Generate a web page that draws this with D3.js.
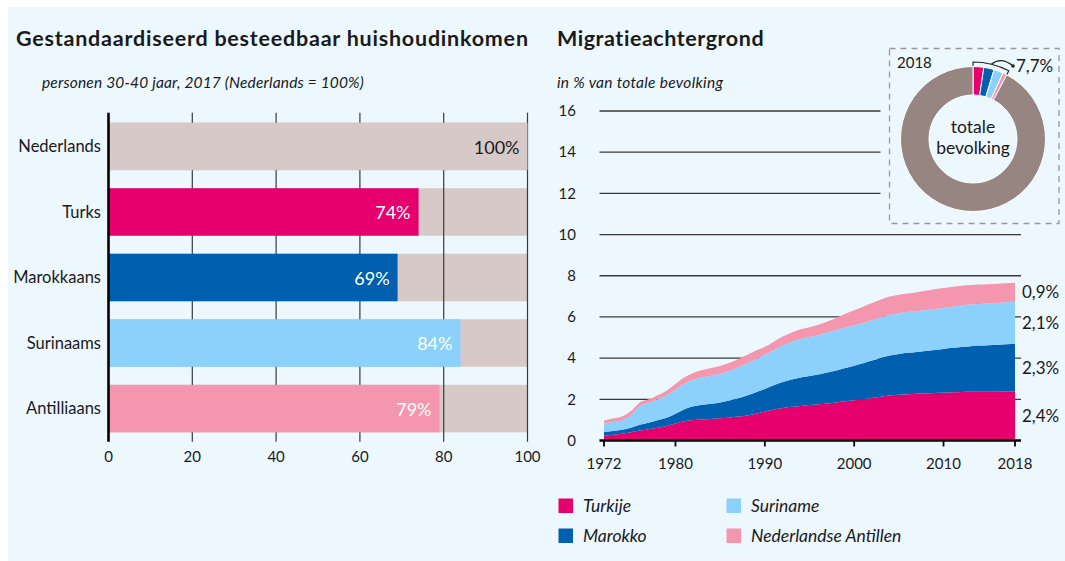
<!DOCTYPE html>
<html>
<head>
<meta charset="utf-8">
<script src="https://d3js.org/d3.v7.min.js"></script>
<style>
  body { margin: 0; background: #fff; }
  svg { display: block; font-family: Lato, "Noto Sans", sans-serif; }
</style>
</head>
<body>
<script>
// Bar chart data (Nederlands = 100%)
const barCategories = ["Nederlands", "Turks", "Marokkaans", "Surinaams", "Antilliaans"];
const barValues = [100, 74, 69, 84, 79];
const barTicks = [0, 20, 40, 60, 80, 100];

// Area chart data, % of total population per year
const years = [1972, 1973, 1974, 1975, 1976, 1977, 1978, 1979, 1980, 1981,
  1982, 1983, 1984, 1985, 1986, 1987, 1988, 1989, 1990, 1991,
  1992, 1993, 1994, 1995, 1996, 1997, 1998, 1999, 2000, 2001,
  2002, 2003, 2004, 2005, 2006, 2007, 2008, 2009, 2010, 2011,
  2012, 2013, 2014, 2015, 2016, 2017, 2018];
const turkije = [0.24, 0.28, 0.33, 0.40, 0.48, 0.55, 0.62, 0.70, 0.82, 0.93,
  0.99, 1.02, 1.05, 1.08, 1.11, 1.16, 1.22, 1.30, 1.40, 1.50,
  1.58, 1.64, 1.68, 1.72, 1.76, 1.80, 1.85, 1.90, 1.95, 2.00,
  2.06, 2.12, 2.18, 2.22, 2.25, 2.27, 2.29, 2.31, 2.32, 2.34,
  2.36, 2.37, 2.37, 2.37, 2.37, 2.38, 2.38];
const marokko = [0.18, 0.18, 0.19, 0.22, 0.28, 0.31, 0.36, 0.40, 0.48, 0.59,
  0.67, 0.72, 0.74, 0.77, 0.83, 0.89, 0.96, 1.04, 1.10, 1.18,
  1.26, 1.32, 1.38, 1.41, 1.44, 1.50, 1.55, 1.62, 1.68, 1.75,
  1.82, 1.90, 1.95, 1.98, 2.01, 2.03, 2.05, 2.08, 2.12, 2.16,
  2.18, 2.21, 2.24, 2.26, 2.28, 2.29, 2.30];
const suriname = [0.40, 0.44, 0.46, 0.61, 0.93, 0.96, 1.02, 1.10, 1.17, 1.24,
  1.30, 1.32, 1.35, 1.39, 1.44, 1.50, 1.56, 1.60, 1.66, 1.72,
  1.78, 1.84, 1.87, 1.89, 1.92, 1.94, 1.97, 1.96, 1.95, 1.95,
  1.96, 1.96, 1.97, 1.98, 1.98, 1.99, 2.00, 2.00, 2.00, 2.00,
  2.02, 2.02, 2.02, 2.02, 2.03, 2.04, 2.06];
const antillen = [0.15, 0.17, 0.19, 0.19, 0.16, 0.18, 0.20, 0.22, 0.27, 0.31,
  0.32, 0.36, 0.38, 0.38, 0.38, 0.40, 0.41, 0.43, 0.39, 0.40,
  0.43, 0.45, 0.47, 0.48, 0.50, 0.54, 0.58, 0.67, 0.75, 0.80,
  0.84, 0.87, 0.89, 0.90, 0.90, 0.91, 0.93, 0.95, 0.96, 0.97,
  0.96, 0.95, 0.94, 0.94, 0.93, 0.93, 0.92];
const seriesNames = ["Turkije", "Marokko", "Suriname", "Nederlandse Antillen"];
const endLabels = ["2,4%", "2,3%", "2,1%", "0,9%"];
const areaYTicks = [0, 2, 4, 6, 8, 10, 12, 14, 16];
const areaXTicks = [1972, 1980, 1990, 2000, 2010, 2018];

// Donut 2018
const donutValues = [2.4, 2.3, 2.1, 0.9, 92.3];
const donutLabel = "7,7%";

const colors = ["#e6006e", "#005faf", "#8cd0fc", "#f497ae"];
const barBack = "#d6c9c7";
const donutRest = "#968580";
const ink = "#1a1a1a";
const gridInk = "#3a3a3a";

const w = 1065, h = 561;

const svg = d3.select("body").append("svg")
  .attr("width", w)
  .attr("height", h);

// spread a text's letters so it spans the width seen in the original
function fitWidth(sel, target) {
  const len = sel.node().getComputedTextLength();
  const n = sel.text().length;
  sel.attr("letter-spacing", ((target - len) / (n - 1)).toFixed(3));
}

// light blue panel
svg.append("rect")
  .attr("x", 8).attr("y", 7)
  .attr("width", w - 8).attr("height", h - 7)
  .attr("fill", "#edf7fe");

/* ---------- Left: bar chart ---------- */

svg.append("text")
  .attr("x", 16).attr("y", 46)
  .style("font-size", "21.5px").style("font-weight", 700)
  .attr("fill", ink)
  .text("Gestandaardiseerd besteedbaar huishoudinkomen")
  .call(fitWidth, 512);

svg.append("text")
  .attr("x", 42).attr("y", 88)
  .style("font-size", "15.5px").style("font-style", "italic")
  .attr("fill", ink)
  .text("personen 30-40 jaar, 2017 (Nederlands  = 100%)")
  .call(fitWidth, 322);

const xBar = d3.scaleLinear().domain([0, 100]).range([108.5, 527.5]);
const yBar = d3.scaleBand().domain(barCategories)
  .range([113.5, 441.5]).paddingInner(0.275).paddingOuter(0.14);

const gridTop = 112.7, gridBottom = 441.7;

// grey remainder bars
svg.append("g").selectAll("rect")
  .data(barCategories)
  .join("rect")
  .attr("x", xBar(0))
  .attr("y", d => yBar(d))
  .attr("width", xBar(100) - xBar(0))
  .attr("height", yBar.bandwidth())
  .attr("fill", barBack);

// gridlines
svg.append("g").selectAll("line")
  .data(barTicks.slice(1))
  .join("line")
  .attr("x1", d => xBar(d)).attr("x2", d => xBar(d))
  .attr("y1", gridTop).attr("y2", gridBottom)
  .attr("stroke", gridInk).attr("stroke-width", 1.2);

// value bars
svg.append("g").selectAll("rect")
  .data(barValues)
  .join("rect")
  .attr("x", xBar(0))
  .attr("y", (d, i) => yBar(barCategories[i]))
  .attr("width", d => xBar(d) - xBar(0))
  .attr("height", yBar.bandwidth())
  .attr("fill", (d, i) => i === 0 ? barBack : colors[i - 1]);

// value labels
svg.append("g").selectAll("text")
  .data(barValues)
  .join("text")
  .attr("x", d => xBar(d) - 8)
  .attr("y", (d, i) => yBar(barCategories[i]) + yBar.bandwidth() / 2 + 1)
  .attr("dy", "0.35em")
  .attr("text-anchor", "end")
  .style("font-size", "18px")
  .attr("fill", (d, i) => i === 0 ? ink : "#fff")
  .text(d => d + "%");

// category labels
svg.append("g").selectAll("text")
  .data(barCategories)
  .join("text")
  .attr("x", 101)
  .attr("y", d => yBar(d) + yBar.bandwidth() / 2)
  .attr("dy", "0.35em")
  .attr("text-anchor", "end")
  .style("font-size", "16.5px")
  .attr("fill", ink)
  .text(d => d);

// y axis line
svg.append("line")
  .attr("x1", xBar(0)).attr("x2", xBar(0))
  .attr("y1", gridTop).attr("y2", gridBottom)
  .attr("stroke", "#000").attr("stroke-width", 2.6);

// x tick labels
svg.append("g").selectAll("text")
  .data(barTicks)
  .join("text")
  .attr("x", d => xBar(d))
  .attr("y", 457)
  .attr("dy", "0.35em")
  .attr("text-anchor", "middle")
  .style("font-size", "15px")
  .attr("fill", ink)
  .text(d => d);

/* ---------- Right: stacked area ---------- */

svg.append("text")
  .attr("x", 557).attr("y", 46)
  .style("font-size", "21.5px").style("font-weight", 700)
  .attr("fill", ink)
  .text("Migratieachtergrond")
  .call(fitWidth, 207);

svg.append("text")
  .attr("x", 557).attr("y", 88)
  .style("font-size", "15.5px").style("font-style", "italic")
  .attr("fill", ink)
  .text("in % van totale bevolking")
  .call(fitWidth, 166);

const xArea = d3.scaleLinear().domain([1972, 2018]).range([604, 1015]);
const yArea = d3.scaleLinear().domain([0, 16]).range([440.5, 111]);

const boxX0 = 889.5, boxY0 = 48.5, boxX1 = 1059, boxY1 = 223.5;
const gridLeft = 599.5, gridRight = 1021;

// gridlines (upper ones stop at the donut box)
svg.append("g").selectAll("line")
  .data(areaYTicks.slice(1))
  .join("line")
  .attr("x1", gridLeft)
  .attr("x2", d => yArea(d) < boxY1 ? boxX0 - 9 : gridRight)
  .attr("y1", d => yArea(d)).attr("y2", d => yArea(d))
  .attr("stroke", gridInk).attr("stroke-width", 1.3);

svg.append("g").selectAll("text")
  .data(areaYTicks)
  .join("text")
  .attr("x", 576)
  .attr("y", d => yArea(d))
  .attr("dy", "0.35em")
  .attr("text-anchor", "end")
  .style("font-size", "15px")
  .attr("fill", ink)
  .text(d => d);

const rows = years.map((yr, i) => ({
  year: yr, s0: turkije[i], s1: marokko[i], s2: suriname[i], s3: antillen[i]
}));
const stack = d3.stack().keys(["s0", "s1", "s2", "s3"]);
const layers = stack(rows);

const area = d3.area()
  .x(d => xArea(d.data.year))
  .y0(d => yArea(d[0]))
  .y1(d => yArea(d[1]))
  .curve(d3.curveMonotoneX);

svg.append("g").selectAll("path")
  .data(layers)
  .join("path")
  .attr("d", area)
  .attr("fill", (d, i) => colors[i]);

// base line and year ticks
svg.append("line")
  .attr("x1", gridLeft).attr("x2", gridRight)
  .attr("y1", yArea(0)).attr("y2", yArea(0))
  .attr("stroke", "#000").attr("stroke-width", 2.6);

svg.append("g").selectAll("line")
  .data(areaXTicks)
  .join("line")
  .attr("x1", d => xArea(d)).attr("x2", d => xArea(d))
  .attr("y1", yArea(0)).attr("y2", yArea(0) + 6)
  .attr("stroke", "#000").attr("stroke-width", 1.8);

svg.append("g").selectAll("text")
  .data(areaXTicks)
  .join("text")
  .attr("x", d => xArea(d))
  .attr("y", 464)
  .attr("dy", "0.35em")
  .attr("text-anchor", "middle")
  .style("font-size", "15px")
  .attr("fill", ink)
  .text(d => d);

// end labels at middle of each band in 2018
svg.append("g").selectAll("text")
  .data(layers)
  .join("text")
  .attr("x", 1022)
  .attr("y", d => {
    const last = d[d.length - 1];
    return yArea((last[0] + last[1]) / 2);
  })
  .attr("dy", "0.35em")
  .style("font-size", "17px")
  .attr("fill", ink)
  .text((d, i) => endLabels[i]);

// legend: Turkije, Marokko (col 1) / Suriname, Antillen (col 2)
const legend = svg.append("g").selectAll("g")
  .data(seriesNames)
  .join("g")
  .attr("transform", (d, i) =>
    "translate(" + (i < 2 ? 558.5 : 726.5) + "," + (i % 2 === 0 ? 498.5 : 528.5) + ")");

legend.append("rect")
  .attr("width", 14.5).attr("height", 14.5)
  .attr("fill", (d, i) => colors[i]);

legend.append("text")
  .attr("x", 24.5).attr("y", 7.5)
  .attr("dy", "0.35em")
  .style("font-size", "17.5px").style("font-style", "italic")
  .attr("fill", ink)
  .text(d => d);

/* ---------- Donut inset ---------- */

svg.append("rect")
  .attr("x", boxX0).attr("y", boxY0)
  .attr("width", boxX1 - boxX0).attr("height", boxY1 - boxY0)
  .attr("fill", "none")
  .attr("stroke", "#9a9a9a").attr("stroke-width", 1.3)
  .attr("stroke-dasharray", "6,5");

svg.append("text")
  .attr("x", 897).attr("y", 68)
  .style("font-size", "15px")
  .attr("fill", ink)
  .text("2018");

const cx = 973, cy = 139;
const pie = d3.pie().sort(null)(donutValues);
const arc = d3.arc().innerRadius(44).outerRadius(72.5);

svg.append("g")
  .attr("transform", "translate(" + cx + "," + cy + ")")
  .selectAll("path")
  .data(pie)
  .join("path")
  .attr("d", arc)
  .attr("fill", (d, i) => i < 4 ? colors[i] : donutRest)
  .attr("stroke", "#fff").attr("stroke-width", 1);

svg.append("text")
  .attr("x", cx).attr("y", 127)
  .attr("dy", "0.35em")
  .attr("text-anchor", "middle")
  .style("font-size", "17.5px")
  .attr("fill", ink)
  .text("totale");

svg.append("text")
  .attr("x", cx).attr("y", 148)
  .attr("dy", "0.35em")
  .attr("text-anchor", "middle")
  .style("font-size", "17.5px")
  .attr("fill", ink)
  .text("bevolking");

// bracket around the migrant share
const a1 = pie[3].endAngle;
const rB = 77, rT = 73;
const pt = (r, a) => [cx + r * Math.sin(a), cy - r * Math.cos(a)];
const br = d3.path();
br.moveTo(...pt(rT, 0));
br.lineTo(...pt(rB, 0));
br.arc(cx, cy, rB, -Math.PI / 2, a1 - Math.PI / 2);
br.lineTo(...pt(rT, a1));
svg.append("path")
  .attr("d", br.toString())
  .attr("fill", "none")
  .attr("stroke", "#222").attr("stroke-width", 1.1);

const mid = pt(rB, a1 / 2);
const dot = [1013, 66];
svg.append("path")
  .attr("d", "M" + mid[0] + "," + mid[1] + " Q" + (mid[0] + 10) + "," + (mid[1] - 8) + " " + dot[0] + "," + dot[1])
  .attr("fill", "none")
  .attr("stroke", "#222").attr("stroke-width", 1.1);

svg.append("circle")
  .attr("cx", dot[0]).attr("cy", dot[1]).attr("r", 1.8)
  .attr("fill", "#222");

svg.append("text")
  .attr("x", 1016).attr("y", 66)
  .attr("dy", "0.35em")
  .style("font-size", "17px")
  .attr("fill", ink)
  .text(donutLabel);
</script>
</body>
</html>
